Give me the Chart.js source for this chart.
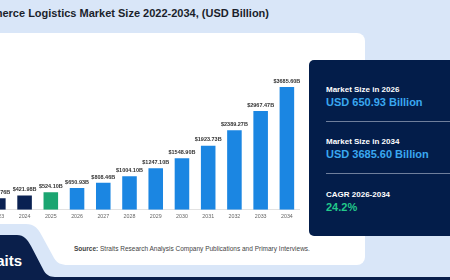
<!DOCTYPE html>
<html>
<head>
<meta charset="utf-8">
<script src="https://cdn.jsdelivr.net/npm/chart.js@4.4.0/dist/chart.umd.min.js"></script>
<style>
  html, body { margin: 0; padding: 0; }
  body { width: 450px; height: 280px; position: relative; overflow: hidden; background: #d9e6f8; font-family: "Liberation Sans", Arial, sans-serif; }
  #deco { position: absolute; left: 0; top: 0; }
  .title { position: absolute; right: 181px; top: 7px; white-space: nowrap; font-weight: bold; font-size: 11px; color: #1b1f2b; }
  #chartBox { position: absolute; left: -41px; top: 60px; width: 341px; height: 164px; }
  .panel { position: absolute; left: 309px; top: 60px; width: 160px; height: 176px; background: #031d4a; border-radius: 5px; }
  .lbl { position: absolute; left: 326px; white-space: nowrap; color: #fff; font-weight: bold; font-size: 8px; }
  .big { position: absolute; left: 326px; white-space: nowrap; font-weight: bold; font-size: 11px; color: #3aa8f0; }
  .sep { position: absolute; left: 326px; width: 130px; height: 1px; background: #6f7f9c; }
  .source { position: absolute; left: 74px; top: 245px; font-size: 6.5px; color: #444; white-space: nowrap; }
  .logo { position: absolute; right: 428px; top: 252px; font-size: 15px; font-weight: bold; color: #fff; white-space: nowrap; }
</style>
</head>
<body>
<svg id="deco" width="450" height="280">
  <rect x="-10" y="33" width="375" height="232" rx="8" fill="#ffffff"/>
  <path d="M0,224 L26,224 C34,224 38,228 42,236 L54,258 C57,263 61,265 68,265 L80,265 L80,280 L0,280 Z" fill="#d9e6f8"/>
  <path d="M0,235 L17,235 C24,235 27,239 31,246 L44,271 C47,276 51,277 57,277 L450,277 L450,280 L0,280 Z" fill="#0a1f4b"/>
</svg>
<div class="title">E-commerce Logistics Market Size 2022-2034, (USD Billion)</div>
<div id="chartBox"><canvas id="barChart"></canvas></div>
<div class="panel"></div>
<div class="lbl" style="top:85px">Market Size in 2026</div>
<div class="big" style="top:96px">USD 650.93 Billion</div>
<div class="sep" style="top:121px"></div>
<div class="lbl" style="top:137px">Market Size in 2034</div>
<div class="big" style="top:148px">USD 3685.60 Billion</div>
<div class="sep" style="top:173px"></div>
<div class="lbl" style="top:190px">CAGR 2026-2034</div>
<div class="big" style="top:201px;color:#22c98a">24.2%</div>
<div class="source"><b>Source:</b> Straits Research Analysis Company Publications and Primary Interviews.</div>
<div class="logo">Straits</div>
<script>
const years = ['2022', '2023', '2024', '2025', '2026', '2027', '2028', '2029', '2030', '2031', '2032', '2033', '2034'];
const marketSize = [273.56, 339.76, 421.98, 524.10, 650.93, 808.46, 1004.10, 1247.10, 1548.90, 1923.73, 2389.27, 2967.47, 3685.60];
const barColors = ['#0a2152', '#0a2152', '#0a2152', '#1ba571', '#1b86e2', '#1b86e2', '#1b86e2', '#1b86e2', '#1b86e2', '#1b86e2', '#1b86e2', '#1b86e2', '#1b86e2'];

// value labels above each bar
const valueLabels = {
  id: 'valueLabels',
  afterDatasetsDraw(chart) {
    const ctx = chart.ctx;
    const meta = chart.getDatasetMeta(0);
    ctx.save();
    ctx.font = 'bold 5.5px "Liberation Sans", Arial, sans-serif';
    ctx.fillStyle = '#333';
    ctx.textAlign = 'center';
    ctx.textBaseline = 'bottom';
    meta.data.forEach((bar, i) => {
      ctx.fillText('$' + marketSize[i].toFixed(2) + 'B', bar.x, bar.y - 3);
    });
    ctx.restore();
  }
};

const barChart = new Chart(document.getElementById('barChart'), {
  type: 'bar',
  data: {
    labels: years,
    datasets: [{
      data: marketSize,
      backgroundColor: barColors,
      barPercentage: 0.555,
      categoryPercentage: 1
    }]
  },
  options: {
    responsive: true,
    maintainAspectRatio: false,
    animation: false,
    layout: { padding: 0 },
    plugins: { legend: { display: false }, tooltip: { enabled: false } },
    scales: {
      x: {
        grid: { display: false, drawTicks: false },
        border: { display: true, color: '#e2e2e2' },
        ticks: { color: '#666', font: { size: 5.3, family: '"Liberation Sans", Arial, sans-serif' }, maxRotation: 0, autoSkip: false, padding: 4 }
      },
      y: { display: false, min: 0, max: 4500 }
    }
  },
  plugins: [valueLabels]
});
</script>
</body>
</html>
